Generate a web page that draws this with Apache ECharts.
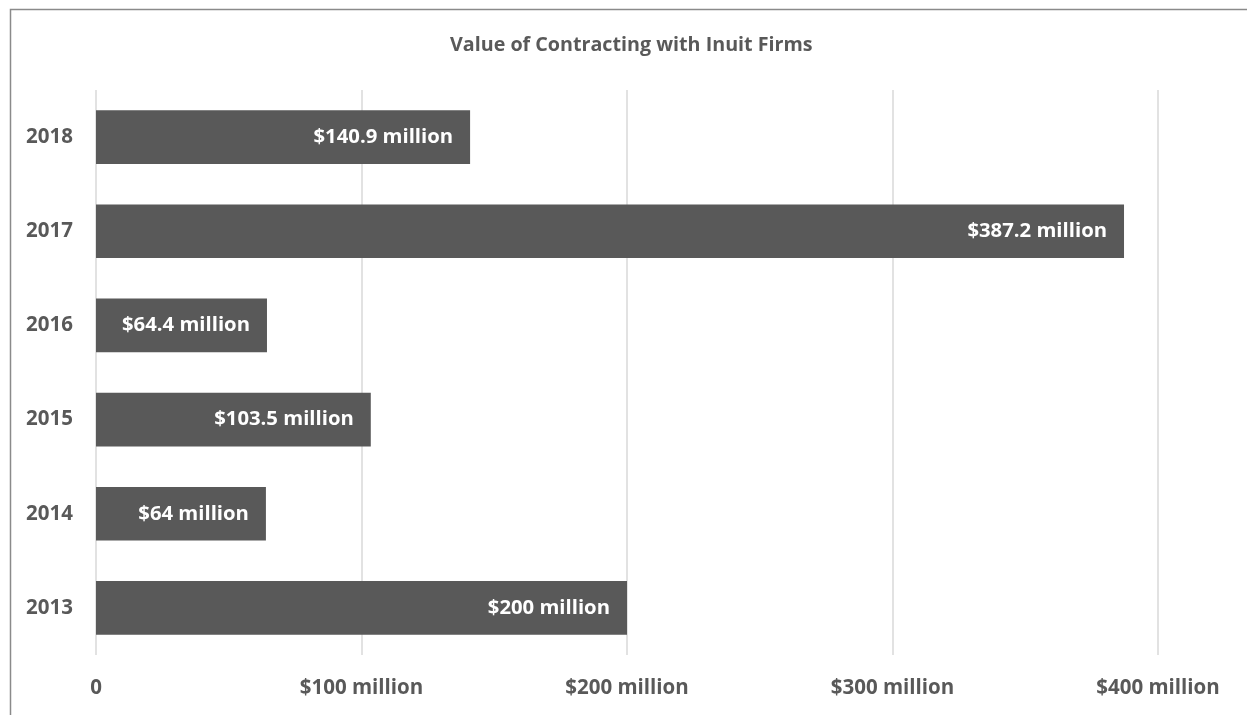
<!DOCTYPE html>
<html>
<head>
<meta charset="utf-8">
<script src="https://cdn.jsdelivr.net/npm/echarts@6/dist/echarts.min.js"></script>
<style>
  html, body { margin: 0; padding: 0; background: #fff; }
  #chart { width: 1247px; height: 715px; }
</style>
</head>
<body>
<div id="chart"></div>
<script>
// Contract values with Inuit firms, by fiscal year (millions of dollars)
const years = ['2013', '2014', '2015', '2016', '2017', '2018'];
const values = [200, 64, 103.5, 64.4, 387.2, 140.9];
const valueLabels = ['$200 million', '$64 million', '$103.5 million', '$64.4 million', '$387.2 million', '$140.9 million'];
const axisTicks = [0, 100, 200, 300, 400];

const FONT = '"Open Sans", sans-serif';
const TEXT = '#595959';

const chart = echarts.init(document.getElementById('chart'), null, { renderer: 'canvas' });

chart.setOption({
  animation: false,
  backgroundColor: '#ffffff',
  title: {
    text: 'Value of Contracting with Inuit Firms',
    left: 445,
    top: 30,
    textStyle: { color: TEXT, fontFamily: FONT, fontWeight: 'bold', fontSize: 19.7 }
  },
  graphic: [{
    type: 'rect',
    left: 8, top: 7,
    shape: { width: 1400, height: 900 },
    style: { fill: 'none', stroke: '#8a8a8a', lineWidth: 1.5 },
    silent: true
  }],
  grid: { left: 96, right: 89, top: 90, bottom: 60, containLabel: false },
  xAxis: {
    type: 'value',
    min: axisTicks[0],
    max: axisTicks[axisTicks.length - 1],
    interval: axisTicks[1] - axisTicks[0],
    axisLine: { show: false },
    axisTick: { show: false },
    splitLine: { show: true, lineStyle: { color: '#d9d9d9', width: 1.5 } },
    axisLabel: {
      color: TEXT, fontFamily: FONT, fontWeight: 'bold', fontSize: 20.5, margin: 23,
      formatter: v => v === 0 ? '0' : '$' + v + ' million'
    }
  },
  yAxis: {
    type: 'category',
    data: years,
    axisLine: { show: false },
    axisTick: { show: false },
    axisLabel: { color: TEXT, fontFamily: FONT, fontWeight: 'bold', fontSize: 20.5, margin: 23 }
  },
  series: [{
    type: 'bar',
    data: values,
    barWidth: '57%',
    itemStyle: { color: '#595959' },
    label: {
      show: true,
      position: 'insideRight',
      distance: 17,
      color: '#ffffff',
      fontFamily: FONT,
      fontWeight: 'bold',
      fontSize: 20.3,
      formatter: p => valueLabels[p.dataIndex]
    }
  }]
});
</script>
</body>
</html>
